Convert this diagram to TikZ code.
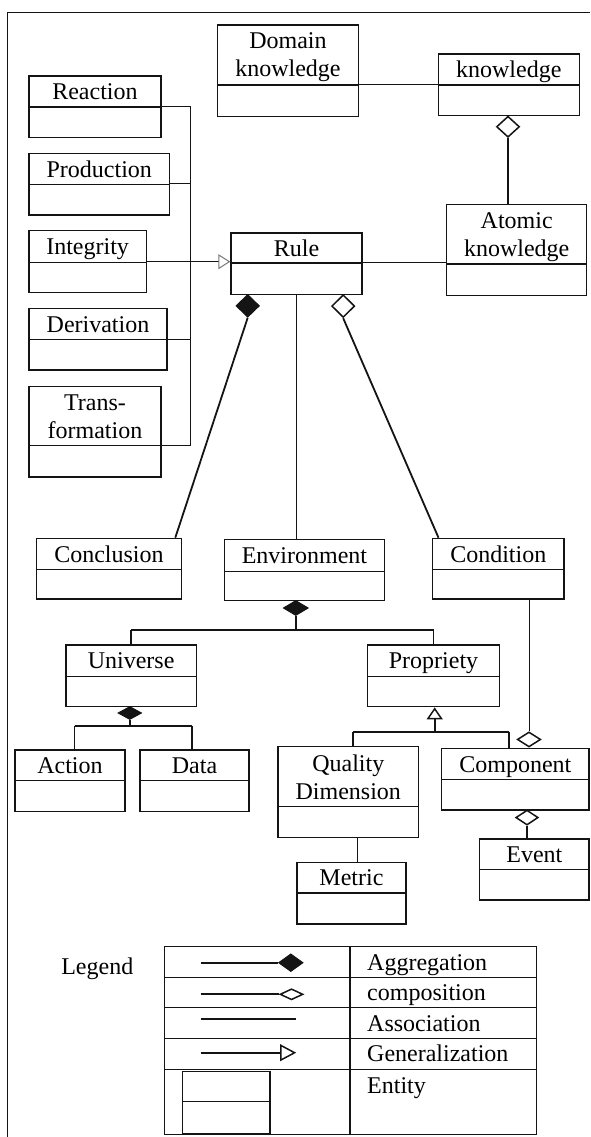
\documentclass[tikz,border=0pt]{standalone}
\usepackage{fontspec}
\setmainfont{Liberation Serif}
\usetikzlibrary{arrows.meta,shapes.geometric,calc}
\definecolor{ink}{RGB}{20,20,20}
\definecolor{tipc}{RGB}{120,120,120}
\tikzset{
  ent/.style={draw=ink,line width=1.4pt,inner sep=0pt,anchor=north west,align=center,text depth=0pt,font=\fontsize{24}{28}\selectfont},
  assoc/.style={ink,line width=1pt},
  part/.style={ink,line width=1.8pt},
  fdia/.style={diamond,draw=ink,fill=ink,inner sep=0pt,line width=1pt},
  odia/.style={diamond,draw=ink,fill=white,inner sep=0pt,line width=1.5pt},
  gen/.style={-{Triangle[open,length=12pt,width=16pt,line width=1.5pt]}},
  legtxt/.style={font=\fontsize{24}{28}\selectfont,anchor=base west,inner sep=0pt},
}
% name, left, top, right, divider, bottom, label
\newcommand{\entity}[7]{%
  \pgfmathsetmacro{\ew}{#4-#2}%
  \pgfmathsetmacro{\eh}{#5-#3}%
  \pgfmathsetmacro{\ebh}{#6-#5}%
  \node[ent,minimum width=\ew pt,minimum height=\eh pt] (#1) at (#2,#3) {#7};
  \node[ent,minimum width=\ew pt,minimum height=\ebh pt] (#1-b) at (#2,#5) {};
}

\begin{document}
\begin{tikzpicture}[x=1pt,y=-1pt]
\useasboundingbox (0,0) rectangle (590,1137);
% ---- frame (top and left edge only) ----
\draw[ink,line width=1.4pt] (590,12.3) -- (7.5,12.3) -- (7.5,1137);

% ---- entities ----
\entity{dom}{217}{24.3}{357.5}{84.3}{115.7}{Domain\\knowledge}
\entity{know}{437.7}{53.3}{578.5}{84.3}{115}{knowledge}
\entity{atom}{446}{204}{586}{263.3}{295}{Atomic\\knowledge}
\entity{rule}{230.3}{232.3}{361.3}{262.3}{294}{Rule}
\entity{reac}{28.2}{75.3}{160.3}{106.3}{137}{Reaction}
\entity{prod}{28.2}{153}{169}{183.7}{214.3}{Production}
\entity{integ}{28.2}{230}{145.7}{261.7}{292}{Integrity}
\entity{deriv}{28.2}{308}{166.4}{339}{369.3}{Derivation}
\entity{trans}{28.2}{386}{160.3}{445}{476.3}{Trans-\\formation}
\entity{concl}{35.8}{537.7}{180.7}{569}{598.3}{Conclusion}
\entity{env}{223.6}{539}{383.9}{570.7}{600}{Environment}
\entity{cond}{431.7}{537.7}{563.4}{569}{598.3}{Condition}
\entity{univ}{65.1}{644.3}{195.7}{675.7}{706}{Universe}
\entity{prop}{367}{644.3}{498.7}{675.7}{706}{Propriety}
\entity{act}{14.3}{749.3}{124.2}{780}{810.7}{Action}
\entity{data}{139.3}{749.3}{248.4}{780}{810.7}{Data}
\entity{qual}{277.4}{746}{417.8}{806}{836.7}{Quality\\Dimension}
\entity{comp}{441}{747.7}{588.3}{779}{809.3}{Component}
\entity{event}{479}{838.3}{588.3}{869}{899.3}{Event}
\entity{metric}{296.2}{861.7}{405.3}{892.3}{923.3}{Metric}

% ---- top: knowledge ----
\draw[assoc] (dom-b.north east) -- (know-b.north west);
\node[odia,anchor=north,minimum width=23pt,minimum height=21pt] (dKn) at (508,115.5) {};
\draw[part] (dKn.south) -- (dKn.south |- atom.north);
\draw[assoc] (rule-b.north east) -- (rule-b.north east -| atom.west);

% ---- rule kinds ----
\coordinate (kbus) at (190.8,0);
\foreach \k in {reac,prod,deriv,trans}
  \draw[assoc] (\k-b.north east) -- (\k-b.north east -| kbus);
\draw[assoc] (reac-b.north east -| kbus) -- (trans-b.north east -| kbus);
\draw[assoc,-{Triangle[open,length=12pt,width=15pt,color=tipc,line width=1pt]}] (integ-b.north east) -- (integ-b.north east -| rule.west);

% ---- rule parts ----
\node[fdia,anchor=north,minimum width=23.5pt,minimum height=22.7pt] (dRa) at (247.7,294) {};
\node[odia,anchor=north,minimum width=23pt,minimum height=22.7pt] (dRb) at (343.2,294) {};
\draw[part] (dRa.south) -- ($(concl.north east)+(-6.8,0)$);
\draw[part] (dRb.south) -- ($(cond.north west)+(6.8,0)$);
\draw[assoc] (rule-b.south) -- (rule-b.south |- env.north);

% ---- environment ----
\node[fdia,anchor=north,minimum width=25pt,minimum height=15pt] (dEn) at (295.8,600) {};
\coordinate (ebus) at (0,630);
\draw[part] (dEn.south) -- (dEn.south |- ebus);
\draw[part] (univ.north |- ebus) -- (prop.north |- ebus);
\draw[part] (univ.north |- ebus) -- (univ.north);
\draw[part] (prop.north |- ebus) -- (prop.north);

\node[fdia,anchor=north,minimum width=23.6pt,minimum height=13pt] (dUn) at (129.8,706) {};
\coordinate (ubl) at (74.5,725.7);
\coordinate (ubr) at (192,725.7);
\draw[part] (dUn.south) -- (dUn.south |- ubl);
\draw[part] (ubl) -- (ubr);
\draw[part] (ubl) -- (ubl |- act.north);
\draw[part] (ubr) -- (ubr |- data.north);

\coordinate (pbl) at (353,732);
\coordinate (pbr) at (508.8,732);
\coordinate (pmid) at (434.7,732);
\draw[part,gen] (pmid) -- (pmid |- prop-b.south);
\draw[part] (pbl) -- (pbr);
\draw[part] (pbl) -- (pbl |- qual.north);
\draw[part] (pbr) -- (pbr |- comp.north);

% ---- condition / component ----
\node[odia,anchor=south,minimum width=23.4pt,minimum height=15pt] (dCo) at (529,747.7) {};
\draw[assoc] (cond-b.south -| dCo.north) -- (dCo.north);
\node[odia,anchor=north,minimum width=22.4pt,minimum height=15pt] (dEv) at (527,809.3) {};
\draw[part] (dEv.south) -- (dEv.south |- event.north);
\coordinate (qm) at (357.5,0);
\draw[part] (qual-b.south -| qm) -- (metric.north -| qm);

% ---- legend ----
\node[font=\fontsize{24}{28}\selectfont,inner sep=0pt] (leg) at (97.3,969) {Legend};
\draw[ink,line width=1.4pt] (164.5,946.7) rectangle (536.3,1134.3);
\draw[ink,line width=1.4pt] (350,946.7) -- (350,1134.3);
\foreach \y in {977.3,1007.7,1038.3,1069.3}
  \draw[ink,line width=1.4pt] (164.5,\y) -- (536.3,\y);
\node[fdia,minimum width=24.5pt,minimum height=17.7pt] (lagg) at (290.8,962.7) {};
\draw[part] (200.6,962.7) coordinate (lagg-s) -- (lagg.west);
\node[odia,minimum width=23pt,minimum height=11pt] (lcom) at (291.5,994.3) {};
\draw[part] (200.6,994.3) coordinate (lcom-s) -- (lcom.west);
\draw[part] (200.6,1019.3) coordinate (lass-s) -- (296.2,1019.3) coordinate (lass-e);
\draw[part,-{Triangle[open,length=16pt,width=16.7pt,line width=1.5pt]}] (200.6,1052.7) coordinate (lgen-s) -- (296.2,1052.7) coordinate (lgen-e);
\entity{lent}{181.8}{1070.7}{269.1}{1101}{1132.7}{}
\node[legtxt] (tagg) at (367,970) {Aggregation};
\node[legtxt] (tcom) at (367,1000) {composition};
\node[legtxt] (tass) at (367,1031) {Association};
\node[legtxt] (tgen) at (367,1061.7) {Generalization};
\node[legtxt] (tent) at (367,1093.3) {Entity};
\end{tikzpicture}
\end{document}
